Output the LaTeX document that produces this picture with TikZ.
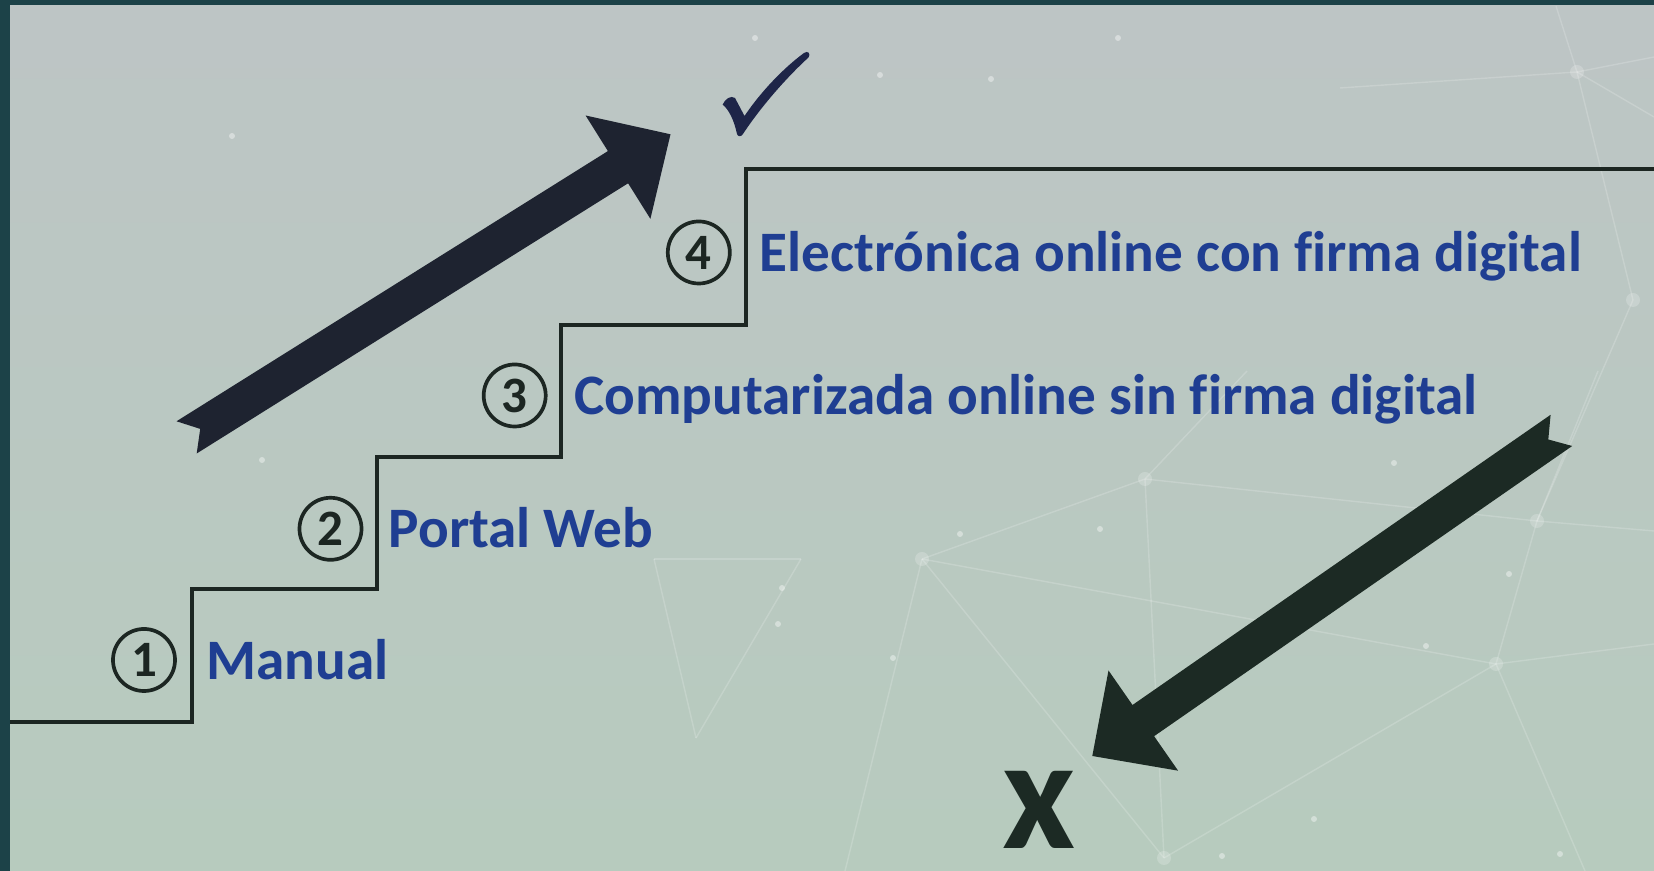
\documentclass[tikz,border=0pt]{standalone}
\usepackage{fontspec}
\setmainfont{Carlito}[Ligatures=NoCommon]

\definecolor{labelblue}{HTML}{1F3E92}
\definecolor{stairline}{HTML}{1C2622}
\definecolor{uparrow}{HTML}{1E2330}
\definecolor{downarrow}{HTML}{1C2A24}
\definecolor{checkcol}{HTML}{1E2548}
\definecolor{framecol}{HTML}{1C4248}
\definecolor{bgtop}{HTML}{BDC5C5}
\definecolor{bgbottom}{HTML}{B7CBBE}

\begin{document}
\begin{tikzpicture}[x=0.01cm,y=-0.01cm]
  \tikzstyle{stepnum}=[circle,draw=stairline,line width=1.05pt,minimum size=0.62cm,inner sep=0pt,text=stairline,font=\fontsize{14.5pt}{16pt}\selectfont\bfseries]
  \tikzstyle{steplabel}=[anchor=base west,inner sep=0pt,text=labelblue,font=\fontsize{16.27pt}{18pt}\selectfont\bfseries]
  \tikzstyle{stair}=[draw=stairline,line width=1.14pt]
  \tikzstyle{net}=[draw=white,draw opacity=0.18,line width=0.4pt]
  \tikzstyle{dot}=[fill=white,fill opacity=0.4]

  \useasboundingbox (0,0) rectangle (1654,871);

  % background
  \fill[framecol] (0,0) rectangle (1654,871);
  \shade[top color=bgtop,bottom color=bgbottom] (10,6) rectangle (1654,871);

  % faint network in the back
  \coordinate (p1) at (922,559);
  \coordinate (p2) at (1145,479);
  \coordinate (p3) at (1537,521);
  \coordinate (p4) at (1496,664);
  \coordinate (p5) at (1164,858);
  \coordinate (p6) at (1577,72);
  \coordinate (p7) at (1633,300);
  \coordinate (p8) at (654,559);
  \coordinate (p9) at (801,559);
  \coordinate (p10) at (696,738);
  \coordinate (e1) at (1654,531);
  \coordinate (e2) at (1654,644);
  \coordinate (e3) at (1585,871);
  \coordinate (e4) at (845,871);
  \coordinate (e5) at (1598,371);
  \coordinate (e6) at (1340,88);
  \coordinate (e7) at (1556,6);
  \coordinate (e8) at (1654,57);
  \coordinate (e9) at (1654,117);
  \coordinate (e10) at (1247,371);
  \foreach \a/\b in {p1/p2,p1/p4,p1/e4,p1/p5,p2/p3,p2/p5,p2/e10,p3/p4,p3/e1,p3/e5,p4/p5,p4/e2,p4/e3,
                     p6/e6,p6/e7,p6/e8,p6/e9,p6/p7,p7/p3,p8/p9,p9/p10,p10/p8}
    \draw[net] (\a) -- (\b);
  \foreach \p in {p1,p2,p3,p4,p5,p6,p7}
    \fill[dot,fill opacity=0.2] (\p) circle (7);
  \foreach \q in {(1100,529),(960,534),(782,588),(778,624),(893,658),(1394,463),(1509,574),(1426,646),
                  (1314,819),(1560,854),(1222,856),(991,79),(880,75),(1118,38),(755,38),(232,136),(262,460)}
    \fill[dot] \q circle (3);

  % staircase
  \draw[stair] (10,722) -- (192,722) -- (192,589.5) -- (376.7,589.5) -- (376.7,456.7)
    -- (561,456.7) -- (561,325) -- (745.7,325) -- (745.7,169.5) -- (1654,169.5);

  \node[stepnum] (n1) at (144,660) {1};
  \node[stepnum] (n2) at (330.5,528.8) {2};
  \node[stepnum] (n3) at (514.7,395.5) {3};
  \node[stepnum] (n4) at (698.8,252.5) {4};

  \node[steplabel] (t1) at (206,680) {Manual};
  \node[steplabel] (t2) at (388,547.7) {Portal Web};
  \node[steplabel] (t3) at (573.5,415) {Computarizada online sin firma digital};
  \node[steplabel] (t4) at (759,271.7) {Electrónica online con firma digital};

  % big arrows
  \fill[uparrow] (176.5,421.3) -- (200.2,428.9) -- (196.7,453.5) -- (628.1,183.3) -- (650.4,218.9)
    -- (670.5,134.3) -- (585.6,115.5) -- (607.9,151.1) -- cycle;
  \fill[downarrow] (1550.6,414.8) -- (1548.3,439.5) -- (1572.2,446.0) -- (1154.1,736.2) -- (1178.1,770.7)
    -- (1092.3,756) -- (1108.5,670.5) -- (1132.5,705) -- cycle;

  % tick and cross
  \fill[checkcol] (722.7,104.5) .. controls (725,99) and (731,95) .. (735,98) -- (744.5,116)
    .. controls (762,90) and (785,67) .. (804,53) .. controls (808,50) and (811,54) .. (808.5,57.5)
    .. controls (786,78) and (760,108) .. (743,134) .. controls (741,137) and (738,137) .. (737,134)
    .. controls (734,120) and (729,110) .. cycle;
  \node[inner sep=0pt,text=downarrow,font=\fontsize{45.3pt}{50pt}\selectfont\bfseries] (cross) at (1038.8,810.3) {x};
\end{tikzpicture}
\end{document}
